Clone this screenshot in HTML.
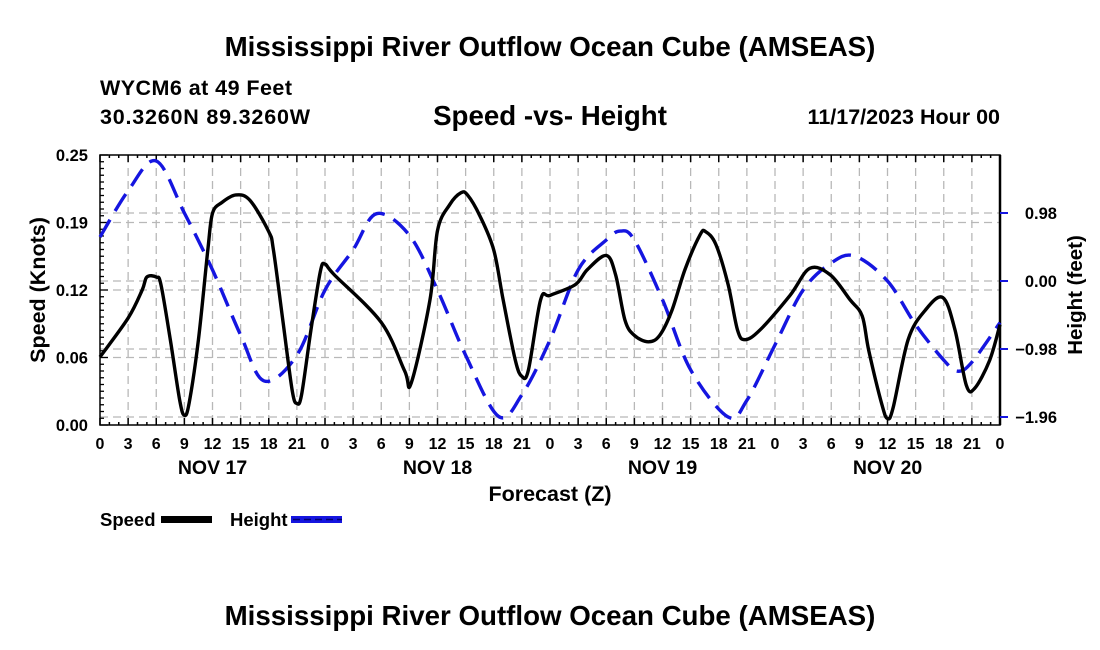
<!DOCTYPE html>
<html><head><meta charset="utf-8"><style>
html,body{margin:0;padding:0;background:#fff;}
svg{display:block;font-family:"Liberation Sans",Arial,sans-serif;font-weight:bold;}
</style></head><body>
<svg id="chart" width="1100" height="650" viewBox="0 0 1100 650">
<text x="550" y="56" text-anchor="middle" font-size="27.7">Mississippi River Outflow Ocean Cube (AMSEAS)</text>
<text x="100" y="95" font-size="21.5" textLength="192">WYCM6 at 49 Feet</text>
<text x="100" y="124" font-size="21.5" textLength="210">30.3260N  89.3260W</text>
<text x="550" y="125" text-anchor="middle" font-size="27.7">Speed -vs- Height</text>
<text x="1000" y="124" text-anchor="end" font-size="21.5">11/17/2023 Hour 00</text>
<g id="grid"></g>
<g id="axes"></g>
<g id="series"></g>
<text x="550" y="501" text-anchor="middle" font-size="21.5">Forecast (Z)</text>
<text transform="translate(45,290) rotate(-90)" text-anchor="middle" font-size="21.5">Speed (Knots)</text>
<text transform="translate(1082,295) rotate(-90)" text-anchor="middle" font-size="20.5">Height (feet)</text>
<g>
<text x="100" y="526" font-size="18.5">Speed</text>
<rect x="161" y="516" width="51" height="7" fill="#000"/>
<text x="230" y="526" font-size="18.5">Height</text>
<rect x="291" y="516" width="51" height="7" fill="#1515e0"/>
<line x1="293" y1="519.5" x2="342" y2="519.5" stroke="#000070" stroke-width="1.5" stroke-dasharray="7,4"/>
</g>
<text x="550" y="625" text-anchor="middle" font-size="27.7">Mississippi River Outflow Ocean Cube (AMSEAS)</text>
</svg>
<script>
const speedHours=[0,3,4.5,5,6,6.5,7.5,8.5,9,9.5,10.5,11.5,12,13,14.5,16,18,18.5,19.5,20.5,21,21.5,22.5,23.5,24,25,30,32.5,33.2,35.2,36,37.3,38.5,39.2,40.5,42,43,44.3,45,45.7,47,48,50.7,52,54,55,56,57,58.5,59.7,61,62.4,64,64.6,65.7,67,68,68.8,70.4,73.6,75.7,77.9,80,81.3,82,83.4,84,84.6,86.2,88,89.9,91.2,92.4,93.3,94.9,96];
const speedValues=[0.063,0.099,0.125,0.137,0.137,0.13,0.079,0.023,0.009,0.02,0.079,0.162,0.196,0.206,0.213,0.208,0.179,0.162,0.097,0.032,0.02,0.028,0.088,0.142,0.149,0.139,0.095,0.05,0.039,0.116,0.18,0.204,0.215,0.213,0.194,0.162,0.116,0.06,0.045,0.051,0.116,0.12,0.13,0.144,0.157,0.139,0.097,0.083,0.077,0.083,0.106,0.144,0.176,0.179,0.167,0.13,0.088,0.079,0.088,0.12,0.145,0.139,0.116,0.101,0.069,0.019,0.006,0.016,0.079,0.106,0.118,0.088,0.037,0.034,0.06,0.093];
const heightHours=[0,3,6,9,12,15,17.5,21,24,27,29.5,33,36,39,42.5,45,48,51,54,55.5,57,60,63,67,69,72,75,78,80.5,84,87,90,91.5,93,96];
const heightValues=[0.634,1.3,1.73,0.98,0.16,-0.78,-1.44,-1.07,-0.13,0.45,0.97,0.66,-0.13,-1.07,-1.95,-1.64,-0.85,0.16,0.59,0.72,0.59,-0.27,-1.28,-1.96,-1.72,-0.92,-0.13,0.26,0.36,0,-0.63,-1.14,-1.3,-1.17,-0.6];
const xTickLabels=["0","3","6","9","12","15","18","21","0","3","6","9","12","15","18","21","0","3","6","9","12","15","18","21","0","3","6","9","12","15","18","21","0"];
const dayLabels=["NOV 17","NOV 18","NOV 19","NOV 20"];
const leftTickValues=[0,0.0625,0.125,0.1875,0.25];
const leftTickLabels=["0.00","0.06","0.12","0.19","0.25"];
const rightTickValues=[0.98,0,-0.98,-1.96];
const rightTickLabels=["0.98","0.00","\u22120.98","\u22121.96"];

const L=100,R=1000,T=155,B=425;
const xS=h=>L+(R-L)*h/96;
const yS=v=>B-(B-T)*v/0.25;
const yH=v=>281-v*(68/0.98);
const NS="http://www.w3.org/2000/svg";
function mk(tag,attrs,parent){const e=document.createElementNS(NS,tag);for(const k in attrs)e.setAttribute(k,attrs[k]);parent.appendChild(e);return e;}
const grid=document.getElementById('grid'),axes=document.getElementById('axes'),series=document.getElementById('series');
const gs={stroke:"#b8b8b8","stroke-width":1.3,"stroke-dasharray":"8,5",fill:"none"};
for(let i=1;i<32;i++){const x=xS(i*3);const g=mk('line',Object.assign({x1:x,x2:x,y1:T,y2:B},gs),grid);

}
leftTickValues.slice(1,4).forEach(v=>{const y=yS(v);const g=mk('line',Object.assign({x1:L,x2:R,y1:y,y2:y},gs),grid);

});
rightTickValues.forEach(v=>{const y=yH(v);const g=mk('line',Object.assign({x1:L,x2:R,y1:y,y2:y},gs),grid);

});
const fr=mk('rect',{x:L,y:T,width:R-L,height:B-T,fill:"none",stroke:"#000","stroke-width":1.5},axes);


mk('line',{x1:R,x2:R,y1:T,y2:B,stroke:"#000","stroke-width":2.5},axes);
for(let h=0;h<=96;h++){const x=xS(h);const len=h%3===0?7:3;
mk('line',{x1:x,x2:x,y1:B,y2:B-len,stroke:"#000","stroke-width":1.5},axes);
mk('line',{x1:x,x2:x,y1:T,y2:T+len,stroke:"#000","stroke-width":1.5},axes);}
xTickLabels.forEach((t,i)=>{const e=mk('text',{x:xS(i*3),y:449,"text-anchor":"middle","font-size":16},axes);e.textContent=t;

});
dayLabels.forEach((t,i)=>{const e=mk('text',{x:xS(12+24*i),y:474,"text-anchor":"middle","font-size":19.5},axes);e.textContent=t;

});
for(let k=0;k<=40;k++){const y=yS(k*0.00625);const len=k%10===0?8:4;mk('line',{x1:L,x2:L+len,y1:y,y2:y,stroke:"#000","stroke-width":1.3},axes);}
leftTickValues.forEach((v,i)=>{const e=mk('text',{x:88,y:yS(v)+6,"text-anchor":"end","font-size":16.5},axes);e.textContent=leftTickLabels[i];

});
rightTickValues.forEach((v,i)=>{const y=yH(v);mk('line',{x1:R,x2:R+8,y1:y,y2:y,stroke:"#1515e0","stroke-width":2},axes);
const e=mk('text',{x:1057,y:y+6,"text-anchor":"end","font-size":16.5},axes);e.textContent=rightTickLabels[i];

});
function path(hs,vs,ys){const p=hs.map((h,i)=>[xS(h),ys(vs[i])]);let d=`M${p[0][0]},${p[0][1]}`;
for(let i=0;i<p.length-1;i++){const p0=p[Math.max(0,i-1)],p1=p[i],p2=p[i+1],p3=p[Math.min(p.length-1,i+2)];
const c1=[p1[0]+(p2[0]-p0[0])/6,p1[1]+(p2[1]-p0[1])/6],c2=[p2[0]-(p3[0]-p1[0])/6,p2[1]-(p3[1]-p1[1])/6];
d+=` C${c1[0]},${c1[1]} ${c2[0]},${c2[1]} ${p2[0]},${p2[1]}`;}return d;}
const hp=mk('path',{d:path(heightHours,heightValues,yH),fill:"none",stroke:"#1515e0","stroke-width":3.4,"stroke-dasharray":"20,10"},series);


const sp=mk('path',{d:path(speedHours,speedValues,yS),fill:"none",stroke:"#000","stroke-width":3.4,"stroke-linejoin":"round"},series);


</script>
</body></html>
